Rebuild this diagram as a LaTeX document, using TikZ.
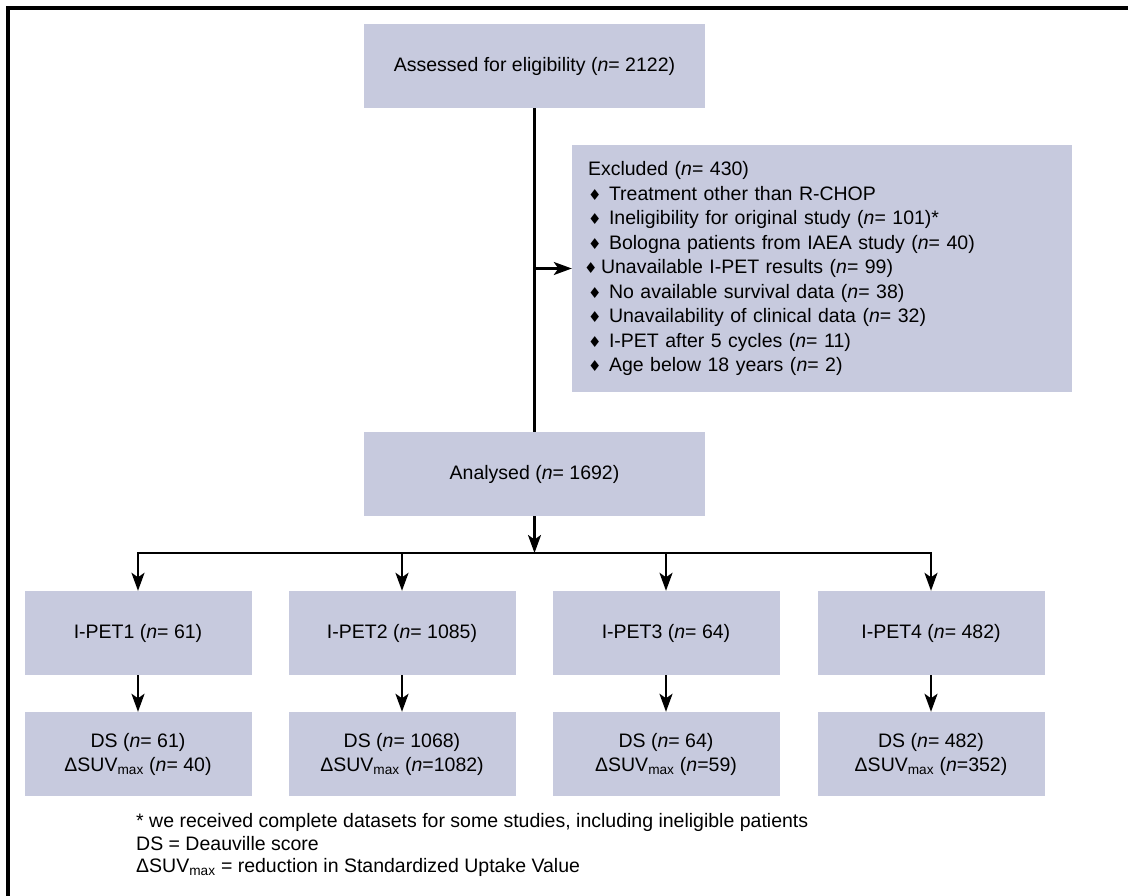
\documentclass[tikz,border=0pt]{standalone}
\usepackage{fontspec}
\setmainfont{Liberation Sans}
\newfontfamily\dejavu{DejaVu Sans}
\usetikzlibrary{arrows.meta}
\definecolor{boxfill}{RGB}{199,202,222}
\newcommand{\bul}{\makebox[21pt][l]{\raisebox{0pt}{\dejavu\fontsize{15}{15}\selectfont ♦}}}
\newcommand{\nn}{\textit{n}}
\begin{document}
\begin{tikzpicture}[x=1pt,y=-1pt,
  every node/.style={font=\fontsize{19.5}{24.5}\selectfont},
  box/.style={fill=boxfill, inner sep=0pt, align=center},
  bigbox/.style={box, minimum width=341pt, minimum height=84pt},
  smallbox/.style={box, minimum width=227pt, minimum height=84pt},
  conn/.style={line width=2.4pt},
  arr/.style={conn, -{Stealth[length=18pt,width=13pt,inset=4.5pt]}}]
\useasboundingbox (0,0) rectangle (1128,896);
\draw[line width=3.5pt] (8,896) -- (8,8) -- (1128,8);

\node[bigbox] (top) at (534.5,66) {Assessed for eligibility (\nn= 2122)};
\node[box, minimum width=500pt, minimum height=247pt, text width=468pt, align=left] (ex) at (822,268.5) {%
Excluded (\nn= 430)\\
\bul Treatment other than R-CHOP\\
\bul Ineligibility for original study (\nn= 101)*\\
\bul Bologna patients from IAEA study (\nn= 40)\\
\hspace{-4pt}\bul\hspace{-4pt}Unavailable I-PET results (\nn= 99)\\
\bul No available survival data (\nn= 38)\\
\bul Unavailability of clinical data (\nn= 32)\\
\bul I-PET after 5 cycles (\nn= 11)\\
\bul Age below 18 years (\nn= 2)};
\node[bigbox] (an) at (534.5,474) {Analysed (\nn= 1692)};

\node[smallbox] (p1) at (138,633) {I-PET1 (\nn= 61)};
\node[smallbox] (p2) at (402,633) {I-PET2 (\nn= 1085)};
\node[smallbox] (p3) at (666,633) {I-PET3 (\nn= 64)};
\node[smallbox] (p4) at (931,633) {I-PET4 (\nn= 482)};

\node[smallbox, font=\fontsize{19.5}{24}\selectfont] (d1) at (138,754) {DS (\nn= 61)\\ΔSUV\textsubscript{max} (\nn= 40)};
\node[smallbox, font=\fontsize{19.5}{24}\selectfont] (d2) at (402,754) {DS (\nn= 1068)\\ΔSUV\textsubscript{max} (\nn=1082)};
\node[smallbox, font=\fontsize{19.5}{24}\selectfont] (d3) at (666,754) {DS (\nn= 64)\\ΔSUV\textsubscript{max} (\nn=59)};
\node[smallbox, font=\fontsize{19.5}{24}\selectfont] (d4) at (931,754) {DS (\nn= 482)\\ΔSUV\textsubscript{max} (\nn=352)};

\node[anchor=west, align=left, inner sep=0pt, font=\fontsize{19.5}{22.5}\selectfont] (fn) at (136,845) {%
* we received complete datasets for some studies, including ineligible patients\\
DS = Deauville score\\
ΔSUV\textsubscript{max} = reduction in Standardized Uptake Value};

\coordinate (bar) at (534.5,553);
\draw[conn] (top.south) -- (an.north);
\draw[arr] (top.south |- ex.west) -- (ex.west);
\draw[arr] (an.south) -- (bar);
\draw[conn, line cap=rect] (p1.north |- bar) -- (p4.north |- bar);
\foreach \i in {1,2,3,4}{
  \draw[arr] (p\i.north |- bar) -- (p\i.north);
  \draw[arr] (p\i.south) -- (d\i.north);
}
\end{tikzpicture}
\end{document}
